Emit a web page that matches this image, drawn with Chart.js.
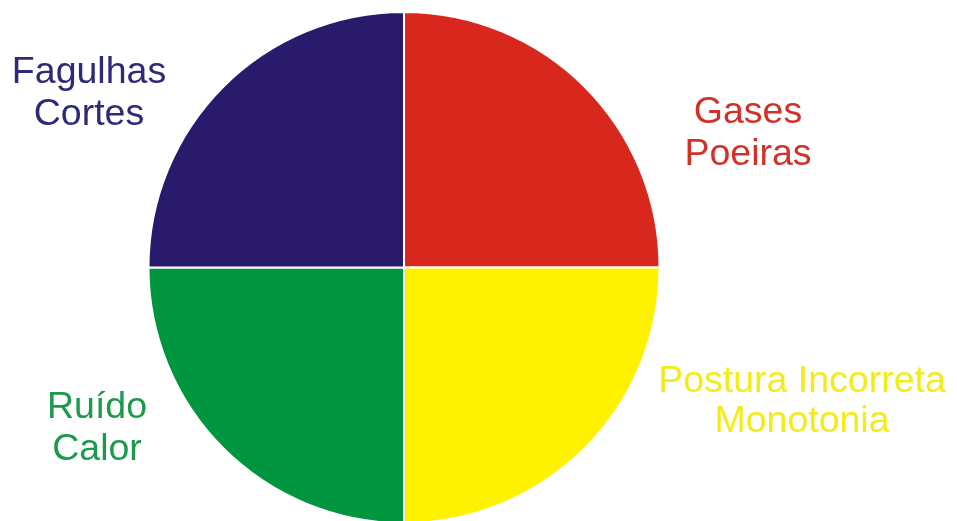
<!DOCTYPE html>
<html>
<head>
<meta charset="utf-8">
<script src="https://cdn.jsdelivr.net/npm/chart.js@4/dist/chart.umd.min.js"></script>
<style>
html,body{margin:0;padding:0;background:#fff;overflow:hidden;width:957px;height:521px;}
canvas{display:block;}
</style>
</head>
<body>
<canvas id="c" width="957" height="540" style="width:957px;height:540px"></canvas>
<script>
// Data
const categories = ["Gases\nPoeiras", "Postura Incorreta\nMonotonia", "Ruído\nCalor", "Fagulhas\nCortes"];
const values = [1, 1, 1, 1];
const sliceColors = ["#d8271d", "#fff200", "#009640", "#2a1a6c"];
const labelColors = ["#d23127", "#f2ec1a", "#1b9a4b", "#2d2a78"];
// layout only: label anchor (first baseline, centre x) relative to pie centre in px, and line spacing
const labelOffsets = [[344, -144.5], [398, 124.5], [-307, 150.5], [-315, -184.5]];
const labelLineHeights = [42, 40, 42, 42];

const labelPlugin = {
  id: 'outerLabels',
  afterDatasetsDraw(chart) {
    const ctx = chart.ctx;
    const meta = chart.getDatasetMeta(0);
    ctx.save();
    ctx.font = '37.5px "Liberation Sans", Arial, sans-serif';
    ctx.textAlign = 'center';
    ctx.textBaseline = 'alphabetic';
    meta.data.forEach((arc, i) => {
      const cx = arc.x + labelOffsets[i][0];
      const cy = arc.y + labelOffsets[i][1];
      const lines = categories[i].split('\n');
      ctx.fillStyle = labelColors[i];
      lines.forEach((ln, k) => {
        ctx.fillText(ln, cx, cy + k * labelLineHeights[i]);
      });
    });
    ctx.restore();
  }
};

new Chart(document.getElementById('c'), {
  type: 'pie',
  data: {
    labels: categories,
    datasets: [{
      data: values,
      backgroundColor: sliceColors,
      borderColor: '#ffffff',
      borderWidth: 2,
      hoverOffset: 0
    }]
  },
  options: {
    responsive: false,
    animation: false,
    layout: { padding: { left: 147, right: 296, top: 11, bottom: 16 } },
    plugins: { legend: { display: false }, tooltip: { enabled: false } }
  },
  plugins: [labelPlugin]
});
</script>
</body>
</html>
